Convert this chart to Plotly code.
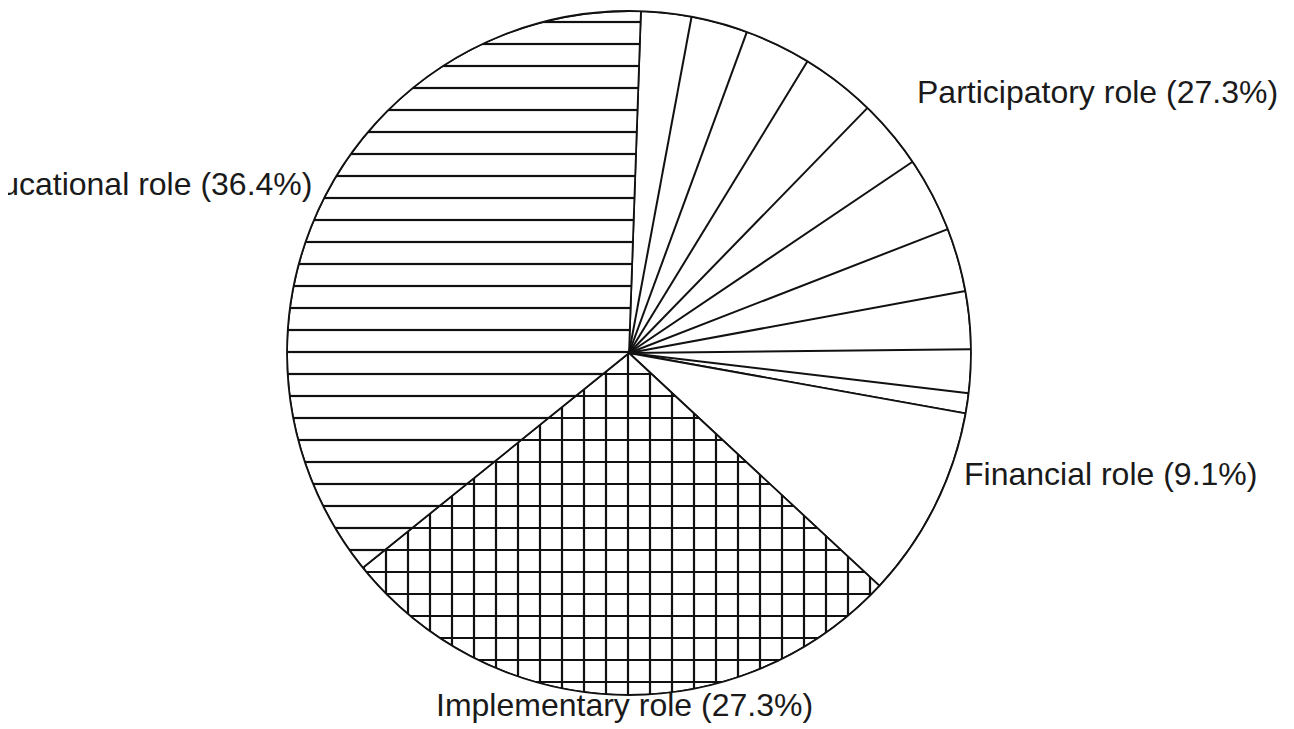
import plotly.graph_objects as go

# ---- data ----
roles = ["Participatory role", "Financial role", "Implementary role", "Educational role"]
shares = [27.3, 9.1, 27.3, 36.4]

# ---- styling ----
W, H = 1294, 729
PAGE_OFFSET = 8  # browser body margin (px) in front of the figure
START_ANGLE = 2.0  # degrees clockwise from 12 o'clock
patterns = ["", "", "+", "-"]
pattern_solidity = [0.0, 0.0, 0.19, 0.10]
FAN_FRACTIONS = [0.087, 0.185, 0.30, 0.43, 0.55, 0.68, 0.79, 0.89, 0.965]
FONT = dict(family="Liberation Sans, Arial, sans-serif", size=32, color="#1a1a1a")

total = sum(shares)
widths = [s / total * 360.0 for s in shares]
starts = []
acc = START_ANGLE
for w in widths:
    starts.append(acc)
    acc += w
centers = [s + w / 2 for s, w in zip(starts, widths)]

fig = go.Figure()
fig.add_trace(go.Barpolar(
    r=[1] * len(shares),
    theta=centers,
    width=widths,
    base=0,
    marker=dict(
        color="white",
        line=dict(color="#111", width=1.8),
        pattern=dict(shape=patterns, size=22, solidity=pattern_solidity,
                     fgcolor="#111", fgopacity=1, bgcolor="white",
                     fillmode="replace"),
    ),
    hoverinfo="skip",
    showlegend=False,
))

# radial fan hatching for the first (participatory) slice
fan_r, fan_t = [], []
for f in FAN_FRACTIONS:
    ang = starts[0] + f * widths[0]
    fan_r += [0, 1, None]
    fan_t += [ang, ang, None]
fig.add_trace(go.Scatterpolar(
    r=fan_r, theta=fan_t, mode="lines",
    line=dict(color="#111", width=2),
    hoverinfo="skip", showlegend=False,
))

# pie centre / radius in page pixels
cx, cy, rad = 629 - PAGE_OFFSET, 353 - PAGE_OFFSET, 342
dom_x = [(cx - rad) / W, (cx + rad) / W]
dom_y = [1 - (cy + rad) / H, 1 - (cy - rad) / H]

fig.update_layout(
    width=W, height=H,
    margin=dict(l=0, r=0, t=0, b=0),
    paper_bgcolor="white",
    plot_bgcolor="white",
    polar=dict(
        domain=dict(x=dom_x, y=dom_y),
        bgcolor="white",
        hole=0,
        angularaxis=dict(rotation=90, direction="clockwise", showline=True,
                         linecolor="#111", linewidth=1.8, showgrid=False,
                         showticklabels=False, ticks=""),
        radialaxis=dict(range=[0, 1], visible=False, showgrid=False),
    ),
)

# label anchor points in page pixels
label_pos = {
    "Participatory role": (1280, 92, "right"),
    "Financial role": (962, 474, "left"),
    "Implementary role": (815, 705, "right"),
    "Educational role": (314, 184, "right"),
}
for role, share in zip(roles, shares):
    px, py, anchor = label_pos[role]
    fig.add_annotation(
        x=(px - PAGE_OFFSET) / W, y=1 - (py - PAGE_OFFSET) / H,
        xref="paper", yref="paper",
        text=f"{role} ({share}%)", showarrow=False,
        xanchor=anchor, yanchor="middle", font=FONT,
    )

fig.write_html("out.html")
